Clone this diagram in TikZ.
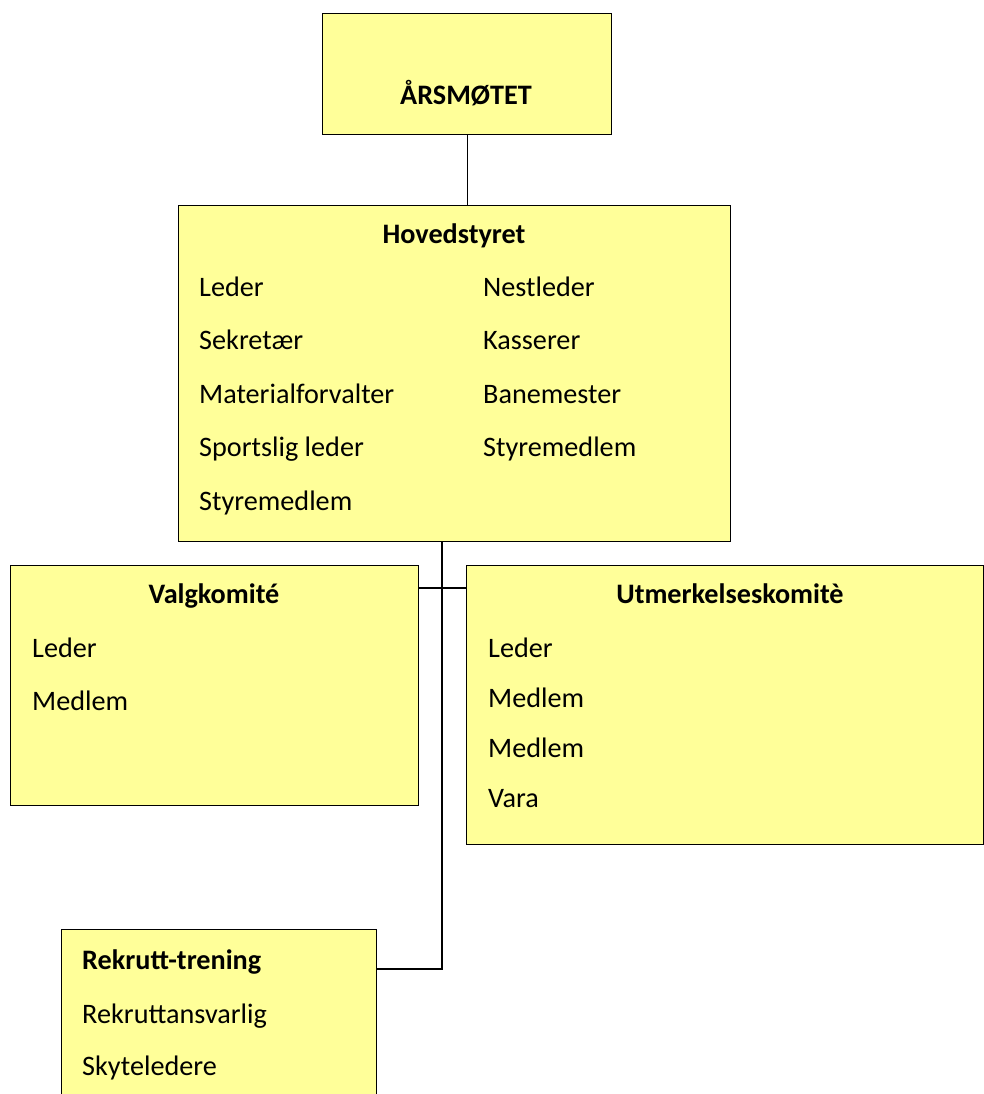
\documentclass[tikz,border=0pt]{standalone}
\usepackage{fontspec}
\setmainfont{Carlito}
\usepackage{tikz}
\usetikzlibrary{positioning}

\definecolor{boxyellow}{HTML}{FFFF99}
\newcommand{\orgfont}{\fontsize{28.2}{34}\selectfont}

\begin{document}
\begin{tikzpicture}[x=1pt, y=-1pt,
    box/.style={draw=black, fill=boxyellow, line width=1.4pt, anchor=north west, inner sep=0pt},
    title/.style={anchor=base, inner sep=0pt, font=\orgfont\bfseries},
    item/.style={anchor=base west, inner sep=0pt, font=\orgfont},
    link/.style={draw=black, line width=1.4pt}]

    \useasboundingbox (0,0) rectangle (984,1094);

    % Boxes
    \node [box, minimum width=289, minimum height=121] (aarsmote) at (322,13) {};
    \node [box, minimum width=552, minimum height=336] (hovedstyret) at (178,205) {};
    \node [box, minimum width=408, minimum height=240] (valg) at (10,565) {};
    \node [box, minimum width=517, minimum height=279] (utm) at (466,565) {};
    \node [box, minimum width=315, minimum height=200] (rekrutt) at (61,929) {};

    % Texts
    \node [title] (aarsmoteTitle) at (466,105) {ÅRSMØTET};

    \node [title] (hovedTitle) at (454,243) {Hovedstyret};
    \node [item] (leder) at (199,296) {Leder};
    \node [item] (sekretaer) at (199,349) {Sekretær};
    \node [item] (material) at (199,403) {Materialforvalter};
    \node [item] (sportslig) at (199,456) {Sportslig leder};
    \node [item] (styremedlemA) at (199,510) {Styremedlem};
    \node [item] (nestleder) at (483,296) {Nestleder};
    \node [item] (kasserer) at (483,349) {Kasserer};
    \node [item] (banemester) at (483,403) {Banemester};
    \node [item] (styremedlemB) at (483,456) {Styremedlem};

    \node [title] (valgTitle) at (214,603) {Valgkomité};
    \node [item] (valgLeder) at (32,657) {Leder};
    \node [item] (valgMedlem) at (32,710) {Medlem};

    \node [title] (utmTitle) at (730,603) {Utmerkelseskomitè};
    \node [item] (utmLeder) at (488,657) {Leder};
    \node [item] (utmMedlemA) at (488,707) {Medlem};
    \node [item] (utmMedlemB) at (488,757) {Medlem};
    \node [item] (utmVara) at (488,807) {Vara};

    \node [item, font=\orgfont\bfseries] (rekruttTitle) at (82,969) {Rekrutt-trening};
    \node [item] (rekruttAnsv) at (82,1023) {Rekruttansvarlig};
    \node [item] (skyteledere) at (82,1075) {Skyteledere};

    % Connectors
    \coordinate (split) at (442,588); % trunk meets the committees
    \coordinate (rekruttJoin) at (376,969); % Rekrutt-trening joins here

    \draw [link] (aarsmote.south) -- (aarsmote.south |- hovedstyret.north);
    \draw [link] (split |- hovedstyret.south) -- (split |- rekruttJoin) -- (rekruttJoin);
    \draw [link] (valg.east |- split) -- (utm.west |- split);

\end{tikzpicture}
\end{document}
